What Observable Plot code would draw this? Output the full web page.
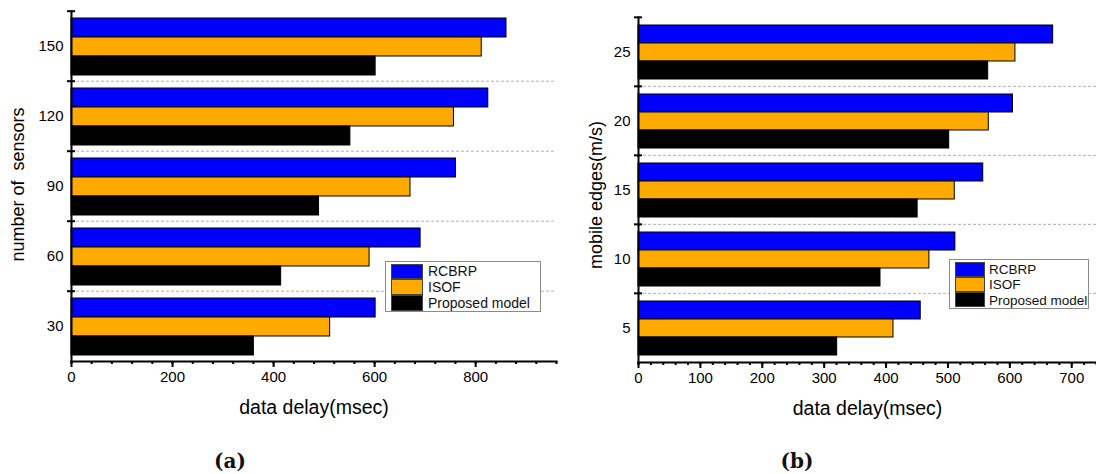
<!DOCTYPE html>
<html><head><meta charset="utf-8">
<script src="https://cdn.jsdelivr.net/npm/d3@7"></script>
<script src="https://cdn.jsdelivr.net/npm/@observablehq/plot@0.6"></script>
<style>
body{margin:0;background:#fff;}
#wrap{position:relative;width:1096px;height:474px;overflow:hidden;font-family:"Liberation Sans",Arial,sans-serif;background:#fff;}
.panel{position:absolute;top:0;}
.legend{position:absolute;border:1px solid #8a8a8a;background:#fff;box-sizing:border-box;}
.legend .sw{position:absolute;box-sizing:border-box;border:1px solid #444;}
.legend .lt{position:absolute;white-space:nowrap;color:#111;transform:translateY(-50%);}
.cap{position:absolute;font-family:"DejaVu Serif",serif;font-weight:bold;font-size:20px;transform:translate(-50%,-50%);color:#111;}
</style></head><body>
<div id="wrap"></div>
<script>
// ---- data ----
const series = ["RCBRP", "ISOF", "Proposed model"];
const colors = ["#0000ff", "#ffaa00", "#000000"];

const sensorCounts = [150, 120, 90, 60, 30];
const sensorsRCBRP = [861, 825, 761, 691, 602];
const sensorsISOF = [812, 757, 671, 590, 512];
const sensorsProposed = [602, 552, 490, 415, 361];
const sensorTicks = [0, 200, 400, 600, 800];

const edgeSpeeds = [25, 20, 15, 10, 5];
const edgesRCBRP = [670, 605, 557, 512, 456];
const edgesISOF = [609, 566, 511, 470, 412];
const edgesProposed = [565, 502, 451, 391, 321];
const edgeTicks = [0, 100, 200, 300, 400, 500, 600, 700];

const xTitle = "data delay(msec)";
const yTitleA = "number of\u00a0 sensors";
const yTitleB = "mobile edges(m/s)";

function makePanel(o) {
  const data = [];
  o.cats.forEach((c, i) => series.forEach((s, j) => data.push({cat: c, series: s, value: o.vals[j][i]})));
  const band = (o.height - o.mt - o.mb) / o.cats.length;
  const midCat = o.cats[Math.floor(o.cats.length / 2)];
  return Plot.plot({
    width: o.width, height: o.height,
    marginTop: o.mt, marginBottom: o.mb, marginLeft: o.ml, marginRight: o.mr,
    style: {fontFamily: "'Liberation Sans', Arial, sans-serif", fontSize: "15px", color: "#000", background: "#fff", overflow: "visible"},
    x: {domain: [0, o.xMax]},
    y: {domain: series, paddingInner: 0, paddingOuter: 0.33, axis: null},
    fy: {domain: o.cats, padding: 0},
    color: {domain: series, range: colors},
    marks: [
      Plot.gridFy({ticks: o.cats.slice(1), dy: -band / 2, stroke: "#b0b0b0", strokeOpacity: 1, strokeDasharray: "3,2", strokeWidth: 1}),
      Plot.barX(data, {x: "value", y: "series", fy: "cat", fill: "series", stroke: "#000", strokeWidth: 1}),
      Plot.frame({anchor: "left", strokeWidth: 2, stroke: "#000"}),
      Plot.frame({anchor: "bottom", facetAnchor: "bottom", strokeWidth: 2, stroke: "#000"}),
      Plot.axisFy({anchor: "left", tickSize: 0, tickPadding: 8, fontSize: 15, label: null}),
      Plot.axisFy({anchor: "left", fill: "none", tickSize: 8, dx: 4, dy: -band / 2, strokeWidth: 2, label: null}),
      Plot.text([o.ylabel], {text: d => d, fy: () => midCat, frameAnchor: "left", textAnchor: "middle", lineAnchor: "middle", rotate: -90, fontSize: 18, fill: "#000", dx: o.yTitleDx, dy: o.yTitleDy}),
      Plot.axisX({ticks: d3.range(0, o.xMax + 1, o.minor), tickSize: 3, fill: "none", strokeWidth: 2, label: null}),
      Plot.axisX({ticks: o.major, tickSize: 6, tickPadding: 4, strokeWidth: 2, fontSize: 15, label: null}),
      Plot.axisX({ticks: [], tickSize: 0, fontSize: 19.5, label: xTitle, labelAnchor: "center", labelArrow: "none", labelOffset: o.xLabelOffset})
    ]
  });
}

function makeLegend(o) {
  const box = document.createElement("div");
  box.className = "legend";
  Object.assign(box.style, {left: o.left + "px", top: o.top + "px", width: o.w + "px", height: o.h + "px"});
  series.forEach((s, i) => {
    const sw = document.createElement("div");
    sw.className = "sw";
    Object.assign(sw.style, {left: o.swLeft + "px", top: (o.rowTop + i * o.rowH) + "px", width: o.swW + "px", height: o.rowH + "px", background: colors[i]});
    const t = document.createElement("div");
    t.className = "lt";
    t.textContent = s;
    Object.assign(t.style, {left: o.textLeft + "px", top: (o.rowTop + i * o.rowH + o.rowH / 2) + "px", fontSize: o.fs + "px"});
    box.append(sw, t);
  });
  return box;
}

const wrap = document.getElementById("wrap");

const pa = makePanel({
  cats: sensorCounts, vals: [sensorsRCBRP, sensorsISOF, sensorsProposed],
  xMax: 960, major: sensorTicks, minor: 40,
  width: 560, height: 440, mt: 9, mb: 78, ml: 71, mr: 4, ylabel: yTitleA, yTitleDx: -53, yTitleDy: -2, xLabelOffset: 52
});
pa.classList.add("panel"); pa.style.left = "0px";
wrap.append(pa);

const pb = makePanel({
  cats: edgeSpeeds, vals: [edgesRCBRP, edgesISOF, edgesProposed],
  xMax: 740, major: edgeTicks, minor: 20,
  width: 536, height: 440, mt: 16, mb: 77.5, ml: 78, mr: 0, ylabel: yTitleB, yTitleDx: -42, yTitleDy: 5, xLabelOffset: 52
});
pb.classList.add("panel"); pb.style.left = "560px";
wrap.append(pb);

wrap.append(makeLegend({left: 385, top: 261, w: 156, h: 51, swLeft: 5, swW: 32, rowTop: 1.5, rowH: 15.8, textLeft: 42, fs: 14}));
wrap.append(makeLegend({left: 949, top: 259, w: 140, h: 50, swLeft: 5, swW: 30, rowTop: 1.5, rowH: 15.2, textLeft: 39, fs: 13.5}));

[["(a)", 230], ["(b)", 797]].forEach(([t, x]) => {
  const c = document.createElement("div");
  c.className = "cap"; c.textContent = t;
  c.style.left = x + "px"; c.style.top = "461px";
  wrap.append(c);
});
</script>
</body></html>
